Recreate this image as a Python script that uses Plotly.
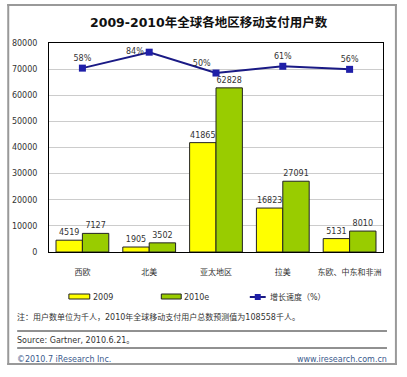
import plotly.graph_objects as go

categories = ["西欧", "北美", "亚太地区", "拉美", "东欧、中东和非洲"]
users_2009 = [4519, 1905, 41865, 16823, 5131]
users_2010e = [7127, 3502, 62828, 27091, 8010]
growth_pct = [58, 84, 50, 61, 56]
growth_labels = ["58%", "84%", "50%", "61%", "56%"]
y_ticks = [0, 10000, 20000, 30000, 40000, 50000, 60000, 70000, 80000]
y_tick_labels = ["0", "10000", "20000", "30000", "40000", "50000", "60000", "70000", "80000"]

W, H = 407, 377
ML, MR, MT, MB = 47, 24, 43, 125
PW, PH = W - ML - MR, H - MT - MB

def px(x):
    return (x - ML) / PW

def py(y):
    return (H - MB - y) / PH

FONT = "DejaVu Sans, Noto Sans CJK SC"
TXT = "#333333"

fig = go.Figure()
fig.add_trace(go.Bar(
    x=categories, y=users_2009, name="2009",
    marker=dict(color="#FFFF00", line=dict(color="#222222", width=1)),
    text=[str(v) for v in users_2009], textposition="outside",
    textfont=dict(size=8, color=TXT, family=FONT), cliponaxis=False,
))
fig.add_trace(go.Bar(
    x=categories, y=users_2010e, name="2010e",
    marker=dict(color="#99CC00", line=dict(color="#222222", width=1)),
    text=[str(v) for v in users_2010e], textposition="outside",
    textfont=dict(size=8, color=TXT, family=FONT), cliponaxis=False,
))
fig.add_trace(go.Scatter(
    x=categories, y=growth_pct, name="增长速度（%）", yaxis="y2",
    mode="lines+markers+text",
    line=dict(color="#1A1A85", width=2),
    marker=dict(symbol="square", size=7, color="#1F1FA8"),
    text=growth_labels,
    textposition=["top center", "middle left", "top left", "top center", "top center"],
    textfont=dict(size=8, color=TXT, family=FONT), cliponaxis=False,
))

fig.update_layout(
    width=W, height=H,
    margin=dict(l=ML, r=MR, t=MT, b=MB),
    paper_bgcolor="white", plot_bgcolor="white",
    showlegend=False,
    barmode="group", bargap=0.21, bargroupgap=0,
    font=dict(family=FONT, size=8, color=TXT),
    xaxis=dict(showgrid=False, showline=True, linecolor="black", linewidth=1,
               mirror=True, ticks="", tickfont=dict(size=8, color=TXT),
               ticklabelstandoff=12),
    yaxis=dict(range=[0, 80000], tickvals=y_ticks, ticktext=y_tick_labels, showgrid=True,
               gridcolor="#CCCCCC", gridwidth=1, showline=True, linecolor="black",
               linewidth=1, mirror=True, ticks="", zeroline=False,
               tickfont=dict(size=8, color=TXT), ticklabelstandoff=9),
    yaxis2=dict(range=[-242, 99], overlaying="y", side="right", visible=False),
)

def note(text, x, y, xanchor="left", size=8, color=TXT):
    fig.add_annotation(text=text, xref="paper", yref="paper", x=px(x), y=py(y),
                       xanchor=xanchor, yanchor="middle", showarrow=False,
                       font=dict(size=size, color=color, family=FONT))

def hline(x0, x1, y, color, width):
    fig.add_shape(type="line", xref="paper", yref="paper",
                  x0=px(x0), x1=px(x1), y0=py(y), y1=py(y),
                  line=dict(color=color, width=width))

def vline(x, y0, y1, color, width):
    fig.add_shape(type="line", xref="paper", yref="paper",
                  x0=px(x), x1=px(x), y0=py(y0), y1=py(y1),
                  line=dict(color=color, width=width))

# Title
note("<b>2009-2010年全球各地区移动支付用户数</b>", 208, 22, xanchor="center",
     size=12.5, color="#111111")

# Manual legend
fig.add_shape(type="rect", xref="paper", yref="paper",
              x0=px(67), x1=px(88), y0=py(299), y1=py(294),
              fillcolor="#FFFF00", line=dict(color="#222222", width=1))
note("2009", 89, 297)
fig.add_shape(type="rect", xref="paper", yref="paper",
              x0=px(160), x1=px(180), y0=py(299), y1=py(294),
              fillcolor="#99CC00", line=dict(color="#222222", width=1))
note("2010e", 181, 297)
hline(249, 265, 297, "#1A1A85", 2)
fig.add_shape(type="rect", xref="paper", yref="paper",
              x0=px(254), x1=px(260), y0=py(300), y1=py(294),
              fillcolor="#1F1FA8", line=dict(width=0))
note("增长速度（%）", 267, 297)

# Notes
note("注：用户数单位为千人，2010年全球移动支付用户总数预测值为108558千人。", 13, 317)
hline(15, 387, 331, "#222222", 1)
note("Source: Gartner, 2010.6.21。", 13, 340)
hline(15, 387, 348, "#222222", 1)
note("©2010.7 iResearch Inc.", 13, 359, color="#3A5A8C")
note("www.iresearch.com.cn", 389, 359, xanchor="right", color="#3A5A8C")

# Outer frame (kept inside the visible viewport)
FR = "#999999"
hline(5, 397, 5, FR, 2)
hline(5, 397, 364, FR, 2)
vline(6, 4, 365, FR, 2)
vline(396, 4, 365, FR, 2)

fig.write_html("out.html", config={"displayModeBar": False},
               post_script="document.body.style.margin='0';document.body.style.padding='0';document.body.style.overflow='hidden';")
